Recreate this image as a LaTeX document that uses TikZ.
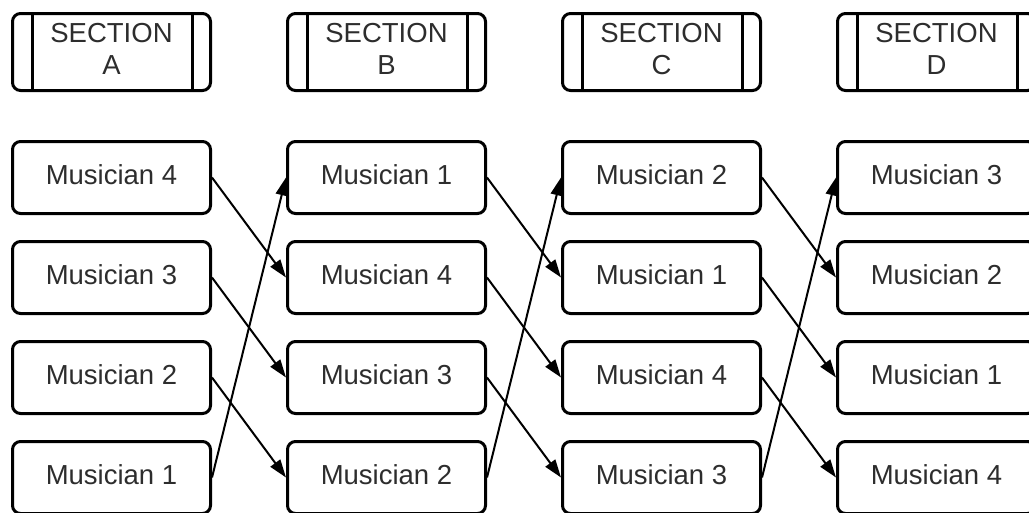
\documentclass[tikz,border=0pt]{standalone}
\usepackage{fontspec}
\setmainfont{Liberation Sans}
\usetikzlibrary{arrows.meta}
\definecolor{textgray}{RGB}{45,45,45}
\begin{document}
\begin{tikzpicture}[x=1pt,y=-1pt,
  mbox/.style={draw=black, line width=3pt, rounded corners=8pt, minimum width=198pt, minimum height=72pt, inner sep=0pt, text=textgray, text depth=6pt, font=\fontsize{27.5}{32}\selectfont},
  hbox/.style={mbox, minimum height=77pt, align=center, text depth=7pt},
  divider/.style={draw=black, line width=3pt},
  conn/.style={draw=black, line width=2pt, -{Triangle[length=18pt,width=12pt]}}]
\useasboundingbox (0,0) rectangle (1029,512);
% headers
\foreach \c/\x in {A/111.5,B/386.5,C/661.5,D/936.5}{
  \node[hbox] (h\c) at (\x,52) {SECTION\\\c};
  \draw[divider] ([xshift=21pt]h\c.north west) -- ([xshift=21pt]h\c.south west);
  \draw[divider] ([xshift=-20pt]h\c.north east) -- ([xshift=-20pt]h\c.south east);
}
% musicians
\node[mbox] (mA1) at (111.5,177.5) {Musician 4};
\node[mbox] (mA2) at (111.5,277.5) {Musician 3};
\node[mbox] (mA3) at (111.5,377.5) {Musician 2};
\node[mbox] (mA4) at (111.5,477.5) {Musician 1};
\node[mbox] (mB1) at (386.5,177.5) {Musician 1};
\node[mbox] (mB2) at (386.5,277.5) {Musician 4};
\node[mbox] (mB3) at (386.5,377.5) {Musician 3};
\node[mbox] (mB4) at (386.5,477.5) {Musician 2};
\node[mbox] (mC1) at (661.5,177.5) {Musician 2};
\node[mbox] (mC2) at (661.5,277.5) {Musician 1};
\node[mbox] (mC3) at (661.5,377.5) {Musician 4};
\node[mbox] (mC4) at (661.5,477.5) {Musician 3};
\node[mbox] (mD1) at (936.5,177.5) {Musician 3};
\node[mbox] (mD2) at (936.5,277.5) {Musician 2};
\node[mbox] (mD3) at (936.5,377.5) {Musician 1};
\node[mbox] (mD4) at (936.5,477.5) {Musician 4};
% connectors
\foreach \p/\q in {A/B,B/C,C/D}{
  \draw[conn] (m\p1.east) -- (m\q2.west);
  \draw[conn] (m\p2.east) -- (m\q3.west);
  \draw[conn] (m\p3.east) -- (m\q4.west);
  \draw[conn] (m\p4.east) -- (m\q1.west);
}
\end{tikzpicture}
\end{document}
